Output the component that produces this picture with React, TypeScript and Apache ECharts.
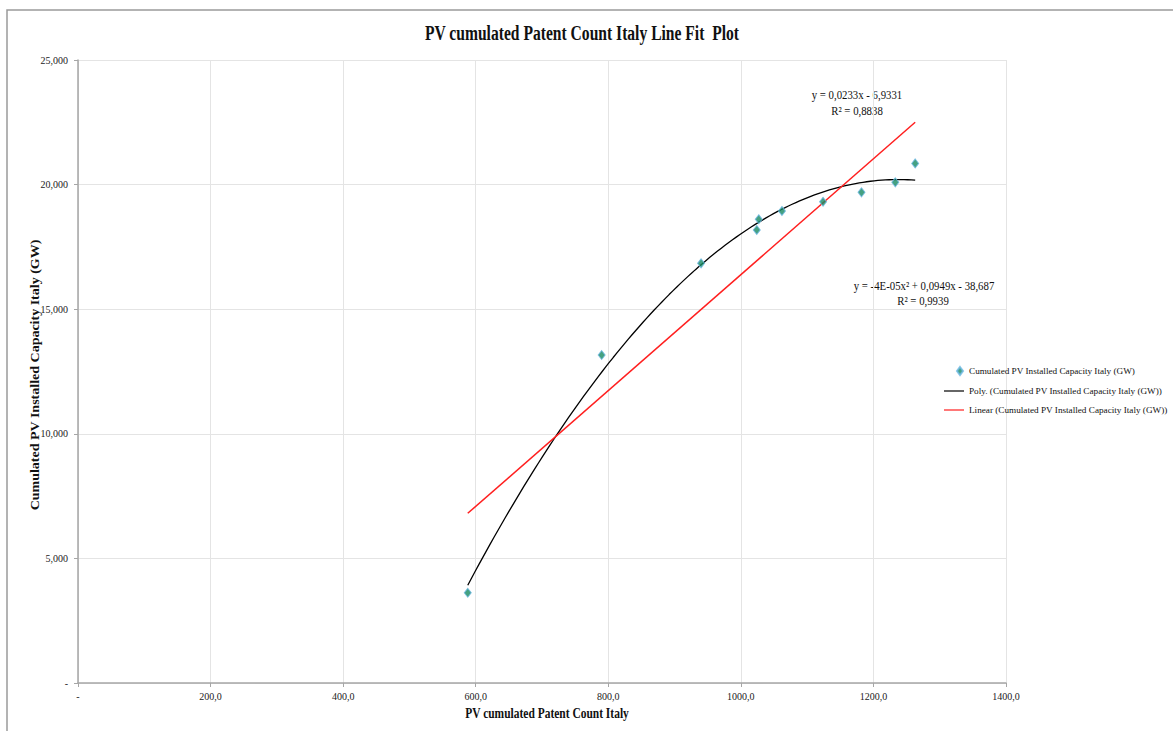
import React, { useEffect, useRef } from "react";
import * as echarts from "echarts";

// ---- Data ----
const patentCount = [588, 790, 940, 1024, 1027, 1062, 1124, 1182, 1233, 1263];
const capacityGW = [3.62, 13.16, 16.84, 18.18, 18.61, 18.94, 19.31, 19.69, 20.09, 20.85];

const xTickMin = 0;
const xTickMax = 1400;
const xTickStep = 200;
const yTickMin = 0;
const yTickMax = 25;
const yTickStep = 5;

const chartTitle = "PV cumulated Patent Count Italy Line Fit  Plot";
const xAxisTitle = "PV cumulated Patent Count Italy";
const yAxisTitle = "Cumulated PV Installed Capacity Italy (GW)";
const scatterName = "Cumulated PV Installed Capacity Italy (GW)";
const polyName = "Poly. (Cumulated PV Installed Capacity Italy (GW))";
const linearName = "Linear (Cumulated PV Installed Capacity Italy (GW))";
const linearEquation = ["y = 0,0233x - 6,9331", "R\u00b2 = 0,8838"];
const polyEquation = ["y = -4E-05x\u00b2 + 0,0949x - 38,687", "R\u00b2 = 0,9939"];

// ---- Least-squares trend lines computed from the data (as Excel does) ----
function fitPolynomial(xs: number[], ys: number[], degree: number) {
  const n = xs.length;
  const mx = xs.reduce((a, b) => a + b, 0) / n;
  const sx = Math.sqrt(xs.reduce((a, b) => a + (b - mx) * (b - mx), 0) / n) || 1;
  const us = xs.map((x) => (x - mx) / sx);
  const m = degree + 1;
  const A: number[][] = [];
  for (let i = 0; i < m; i++) {
    const row: number[] = [];
    for (let j = 0; j < m; j++) {
      row.push(us.reduce((a, u) => a + Math.pow(u, i + j), 0));
    }
    row.push(us.reduce((a, u, k) => a + Math.pow(u, i) * ys[k], 0));
    A.push(row);
  }
  for (let c = 0; c < m; c++) {
    let p = c;
    for (let r = c + 1; r < m; r++) if (Math.abs(A[r][c]) > Math.abs(A[p][c])) p = r;
    [A[c], A[p]] = [A[p], A[c]];
    for (let r = 0; r < m; r++) {
      if (r === c) continue;
      const f = A[r][c] / A[c][c];
      for (let k = c; k <= m; k++) A[r][k] -= f * A[c][k];
    }
  }
  const coef = A.map((row, i) => row[m] / row[i]);
  return (x: number) => {
    const u = (x - mx) / sx;
    return coef.reduce((a, c, i) => a + c * Math.pow(u, i), 0);
  };
}

const xMin = Math.min(...patentCount);
const xMax = Math.max(...patentCount);
const polyFn = fitPolynomial(patentCount, capacityGW, 2);
const linFn = fitPolynomial(patentCount, capacityGW, 1);
const polySteps = 120;
const polyCurve: number[][] = [];
for (let i = 0; i <= polySteps; i++) {
  const x = xMin + ((xMax - xMin) * i) / polySteps;
  polyCurve.push([x, polyFn(x)]);
}
const linearLine = [
  [xMin, linFn(xMin)],
  [xMax, linFn(xMax)],
];

const SERIF = '"Liberation Serif", "Times New Roman", serif';

// legend icons: the two degenerate segments pin the bounding box to 20x10
const ICON_DIAMOND = "path://M0,0L0,0M20,10L20,10M16,1L19,5L16,9L13,5Z";
const ICON_LINE = "path://M0,0L0,0M20,10L20,10M0,4.4L20,4.4L20,5.6L0,5.6Z";

export default function App() {
  const ref = useRef<HTMLDivElement>(null);

  useEffect(() => {
    document.body.style.margin = "0";
    if (!ref.current) return;
    const chart = echarts.init(ref.current, undefined, { renderer: "svg" });

    const scaledText = (x: number, y: number, text: string, font: string, scaleX: number) => ({
      type: "group",
      x,
      y,
      scaleX,
      children: [
        {
          type: "text",
          x: 0,
          y: 0,
          style: { text, font, fill: "#111", align: "center", verticalAlign: "middle" },
        },
      ],
    });

    chart.setOption({
      animation: false,
      backgroundColor: "#ffffff",
      textStyle: { fontFamily: SERIF },
      grid: { left: 78, right: 167, top: 60, bottom: 48, containLabel: false },
      legend: {
        orient: "vertical",
        left: 943,
        top: 365,
        padding: 0,
        itemWidth: 20,
        itemHeight: 10,
        itemGap: 9,
        textStyle: { fontFamily: SERIF, fontSize: 9.2, color: "#111" },
        data: [
          { name: scatterName, icon: ICON_DIAMOND },
          { name: polyName, icon: ICON_LINE },
          { name: linearName, icon: ICON_LINE },
        ],
      },
      xAxis: {
        type: "value",
        min: xTickMin,
        max: xTickMax,
        interval: xTickStep,
        axisLine: { show: true, onZero: false, lineStyle: { color: "#a6a6a6", width: 1.5 } },
        axisTick: { show: true, length: 4, lineStyle: { color: "#a6a6a6" } },
        splitLine: { show: true, lineStyle: { color: "#e4e4e4", width: 1 } },
        axisLabel: {
          margin: 8,
          fontFamily: SERIF,
          fontSize: 10,
          color: "#222",
          formatter: (v: number) => (v === 0 ? "-" : v.toFixed(1).replace(".", ",")),
        },
      },
      yAxis: {
        type: "value",
        min: yTickMin,
        max: yTickMax,
        interval: yTickStep,
        axisLine: { show: true, onZero: false, lineStyle: { color: "#a6a6a6", width: 1.5 } },
        axisTick: { show: true, length: 4, lineStyle: { color: "#a6a6a6" } },
        splitLine: { show: true, lineStyle: { color: "#e4e4e4", width: 1 } },
        axisLabel: {
          margin: 10,
          fontFamily: SERIF,
          fontSize: 10,
          color: "#222",
          formatter: (v: number) => (v === 0 ? "-" : v.toFixed(3).replace(".", ",")),
        },
      },
      series: [
        {
          name: polyName,
          type: "line",
          data: polyCurve,
          showSymbol: false,
          symbol: "none",
          lineStyle: { color: "#000000", width: 1.3 },
          itemStyle: { color: "#000000", borderWidth: 0 },
          z: 2,
        },
        {
          name: linearName,
          type: "line",
          data: linearLine,
          showSymbol: false,
          symbol: "none",
          lineStyle: { color: "#ff1f1f", width: 1.5 },
          itemStyle: { color: "#ff1f1f", borderWidth: 0 },
          z: 2,
        },
        {
          name: scatterName,
          type: "scatter",
          data: patentCount.map((x, i) => [x, capacityGW[i]]),
          symbol: "diamond",
          symbolSize: [7, 9],
          itemStyle: { color: "#178a62", borderColor: "#6ab6e2", borderWidth: 1 },
          z: 3,
        },
      ],
      graphic: [
        {
          type: "rect",
          shape: { x: 7, y: 10, width: 1200, height: 800 },
          style: { fill: "none", stroke: "#9a9a9a", lineWidth: 1.5 },
          silent: true,
        },
        scaledText(582, 33, chartTitle, `bold 20px ${SERIF}`, 0.78),
        scaledText(547, 714, xAxisTitle, `bold 14px ${SERIF}`, 0.82),
        {
          type: "group",
          x: 35,
          y: 375,
          rotation: Math.PI / 2,
          scaleY: 0.82,
          children: [
            {
              type: "text",
              x: 0,
              y: 0,
              style: {
                text: yAxisTitle,
                font: `bold 14px ${SERIF}`,
                fill: "#111",
                align: "center",
                verticalAlign: "middle",
              },
            },
          ],
        },
        scaledText(857, 95, linearEquation[0], `13px ${SERIF}`, 0.83),
        scaledText(857, 111, linearEquation[1], `13px ${SERIF}`, 0.83),
        scaledText(924, 286, polyEquation[0], `13px ${SERIF}`, 0.83),
        scaledText(923, 301, polyEquation[1], `13px ${SERIF}`, 0.83),
      ],
    });

    return () => chart.dispose();
  }, []);

  return (
    <div ref={ref} style={{ position: "absolute", left: 0, top: 0, width: 1173, height: 731 }} />
  );
}
